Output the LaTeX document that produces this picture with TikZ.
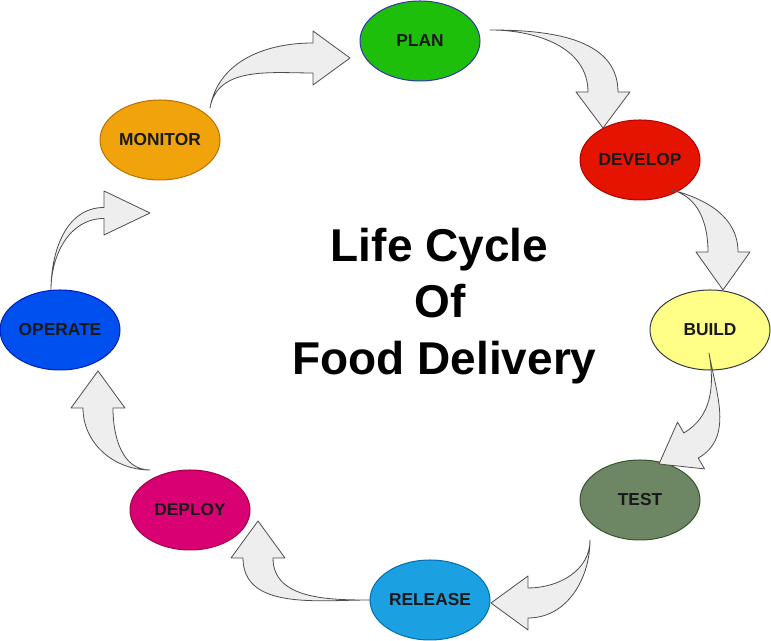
\documentclass[tikz,border=0pt]{standalone}
\usepackage{fontspec}
\setsansfont{Liberation Sans}
\usetikzlibrary{shapes.geometric,calc}
\definecolor{arrowFill}{HTML}{EEEEEE}
\definecolor{arrowLine}{HTML}{4D4D4D}
\definecolor{planFill}{HTML}{1EBF0B}
\definecolor{planLine}{HTML}{3333B0}
\definecolor{developFill}{HTML}{E51400}
\definecolor{developLine}{HTML}{B20000}
\definecolor{buildFill}{HTML}{FFFF88}
\definecolor{buildLine}{HTML}{36393D}
\definecolor{testFill}{HTML}{6D8764}
\definecolor{testLine}{HTML}{3A5431}
\definecolor{releaseFill}{HTML}{1BA1E2}
\definecolor{releaseLine}{HTML}{006EAF}
\definecolor{deployFill}{HTML}{D80073}
\definecolor{deployLine}{HTML}{A50040}
\definecolor{operateFill}{HTML}{0050EF}
\definecolor{operateLine}{HTML}{001DBC}
\definecolor{monitorFill}{HTML}{F0A30A}
\definecolor{monitorLine}{HTML}{BD7000}
\tikzset{
	stage/.style={ellipse, draw, line width=0.75pt, minimum width=90pt, minimum height=60pt,
		inner sep=0pt, outer sep=0pt, text=black!90, font=\sffamily\bfseries\fontsize{13}{15}\selectfont},
	flow arrow/.style={draw=arrowLine, fill=arrowFill, line width=0.6pt, line join=round},
	headline/.style={anchor=base, inner sep=0pt, font=\sffamily\bfseries\fontsize{34.5}{40}\selectfont}
}
% #1 tail, #2 out angle, #3 tip, #4 direction, #5 shaft half width, #6 head half width, #7 head length
\newcommand{\flowarrow}[7]{%
	\pgfmathsetmacro{\faBack}{#4+180}
	\pgfmathsetmacro{\faLeft}{#4+90}
	\pgfmathsetmacro{\faRight}{#4-90}
	\path (#3) ++(\faBack:#7) coordinate (fa base);
	\draw[flow arrow] (#1) to[out=#2,in=\faBack] ($(fa base)+(\faLeft:#5)$)
		-- ($(fa base)+(\faLeft:#6)$) -- (#3) -- ($(fa base)+(\faRight:#6)$)
		-- ($(fa base)+(\faRight:#5)$) to[out=\faBack,in=#2] (#1) -- cycle;
}
\begin{document}
\begin{tikzpicture}[x=0.75pt,y=0.75pt]
	\useasboundingbox (0,0) rectangle (771,641);
	
	\node[stage, fill=planFill, draw=planLine] (plan) at (420,600) {PLAN};
	\node[stage, fill=developFill, draw=developLine] (develop) at (640,481) {DEVELOP};
	\node[stage, fill=buildFill, draw=buildLine] (build) at (710,311) {BUILD};
	\node[stage, fill=testFill, draw=testLine] (test) at (640,141) {TEST};
	\node[stage, fill=releaseFill, draw=releaseLine] (release) at (430,41) {RELEASE};
	\node[stage, fill=deployFill, draw=deployLine] (deploy) at (190,131) {DEPLOY};
	\node[stage, fill=operateFill, draw=operateLine] (operate) at (60,311) {OPERATE};
	\node[stage, fill=monitorFill, draw=monitorLine] (monitor) at (160,501) {MONITOR};
	
	\node[headline] (title1) at (439.5,379) {Life Cycle};
	\node[headline] (title2) at (440,323) {Of};
	\node[headline] (title3) at (444.5,266) {Food Delivery};
	
	\flowarrow{$(monitor.center)+(50,32)$}{80}{$(plan.center)+(-70,-17)$}{0}{15}{27}{37}
	\flowarrow{$(plan.center)+(70,11)$}{0}{$(develop.center)+(-37,32)$}{-90}{15}{27}{36}
	\flowarrow{$(develop.center)+(32,-30)$}{-15}{$(build.center)+(13,40)$}{-90}{15}{27}{38}
	\flowarrow{$(build.center)+(-1,-23)$}{-80}{$(test.center)+(19,36)$}{210}{14.5}{27}{37}
	\flowarrow{$(test.center)+(-50,-40)$}{-90}{$(release.center)+(61,-3)$}{180}{15}{27}{37}
	\flowarrow{$(release.center)+(-60,0)$}{180}{$(deploy.center)+(68,-11)$}{90}{15}{27}{37}
	\flowarrow{$(deploy.center)+(-40,40)$}{180}{$(operate.center)+(38,-41)$}{90}{15}{27}{37}
	\flowarrow{$(operate.center)+(-9,40)$}{90}{$(monitor.center)+(-10,-73)$}{0}{5.5}{22}{46}
\end{tikzpicture}
\end{document}
